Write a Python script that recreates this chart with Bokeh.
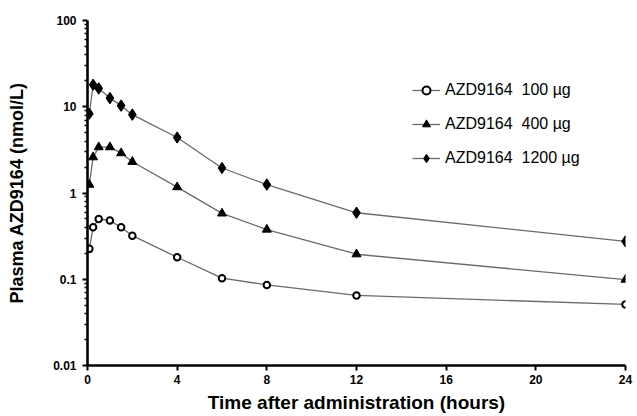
from bokeh.plotting import figure
from bokeh.models import Range1d, FixedTicker, CustomJSTickFormatter, Legend, LegendItem, ColumnDataSource
from bokeh.embed import file_html
from bokeh.resources import INLINE

# ---- data ----
times = [0.083, 0.25, 0.5, 1, 1.5, 2, 4, 6, 8, 12, 24]
dose_100 = [0.225, 0.40, 0.50, 0.48, 0.40, 0.32, 0.18, 0.103, 0.086, 0.065, 0.051]
dose_400 = [1.25, 2.6, 3.4, 3.4, 2.9, 2.3, 1.17, 0.58, 0.377, 0.195, 0.099]
dose_1200 = [8.3, 18.0, 16.3, 12.6, 10.3, 8.1, 4.4, 1.95, 1.25, 0.59, 0.275]
series_labels = ["AZD9164  100 µg", "AZD9164  400 µg", "AZD9164  1200 µg"]
x_ticks = [0, 4, 8, 12, 16, 20, 24]
y_ticks = [0.01, 0.1, 1, 10, 100]
y_minor = [m * d for d in [0.01, 0.1, 1, 10] for m in range(2, 10)]

FONT = "Liberation Sans"

p = figure(width=637, height=416, y_axis_type="log",
           x_range=Range1d(0, 24), y_range=Range1d(0.01, 100),
           output_backend="svg", toolbar_location=None,
           min_border_left=87, min_border_right=12, min_border_top=20, min_border_bottom=51)
p.outline_line_color = None
p.grid.grid_line_color = None
p.background_fill_color = "white"
p.border_fill_color = "white"

# axes
xa = p.xaxis[0]
ya = p.yaxis[0]
xa.ticker = FixedTicker(ticks=x_ticks)
ya.ticker = FixedTicker(ticks=y_ticks, minor_ticks=y_minor)
ya.formatter = CustomJSTickFormatter(code="return tick.toString();")
for ax in (xa, ya):
    ax.axis_line_width = 2.6
    ax.axis_line_color = "black"
    ax.major_tick_line_width = 2
    ax.major_tick_line_color = "black"
    ax.major_tick_in = 0
    ax.major_tick_out = 5
    ax.major_label_text_font = FONT
    ax.major_label_text_font_style = "bold"
    ax.major_label_text_font_size = "12px"
    ax.major_label_text_color = "black"
    ax.axis_label_text_font = FONT
    ax.axis_label_text_font_style = "bold"
    ax.axis_label_text_color = "black"
xa.axis_label_text_font_size = "19px"
ya.axis_label_text_font_size = "18px"
xa.minor_tick_line_color = None
ya.minor_tick_line_color = "black"
ya.minor_tick_line_width = 1.5
ya.minor_tick_in = 0
ya.minor_tick_out = 3
xa.major_label_standoff = 4
ya.major_label_standoff = 6
xa.axis_label = "Time after administration (hours)"
ya.axis_label = "Plasma AZD9164 (nmol/L)"
xa.axis_label_standoff = 5
ya.axis_label_standoff = 23

line_color = "#6a6a6a"

src1 = ColumnDataSource(dict(t=times, c=dose_100))
l1 = p.line("t", "c", source=src1, line_color=line_color, line_width=1.3)
m1 = p.scatter("t", "c", source=src1, marker="circle", size=6.5, fill_color="white",
               line_color="black", line_width=2)

src2 = ColumnDataSource(dict(t=times, c=dose_400))
l2 = p.line("t", "c", source=src2, line_color=line_color, line_width=1.3)
m2 = p.scatter("t", "c", source=src2, marker="triangle", size=9, fill_color="black",
               line_color="black", line_width=1)

src3 = ColumnDataSource(dict(t=times, c=dose_1200))
l3 = p.line("t", "c", source=src3, line_color=line_color, line_width=1.3)
m3 = p.scatter("t", "c", source=src3, marker="diamond", size=11,
               fill_color="black", line_color="black", line_width=1.2)

legend = Legend(items=[LegendItem(label=series_labels[0], renderers=[l1, m1]),
                       LegendItem(label=series_labels[1], renderers=[l2, m2]),
                       LegendItem(label=series_labels[2], renderers=[l3, m3])],
                location=(325, 197), orientation="vertical",
                border_line_color=None, background_fill_alpha=0,
                padding=0, margin=0, spacing=14,
                glyph_width=28, glyph_height=20, label_height=20,
                label_standoff=5,
                label_text_font=FONT, label_text_font_size="16px",
                label_text_color="black")
p.add_layout(legend, "center")

open("out.html", "w").write(file_html(p, INLINE))
